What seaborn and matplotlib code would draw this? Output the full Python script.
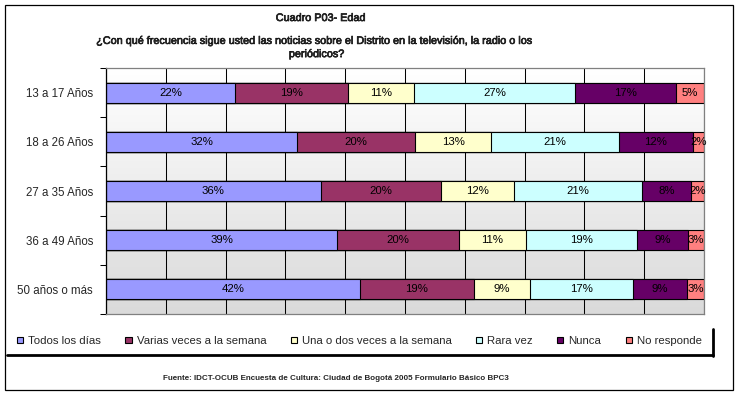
import numpy as np
import pandas as pd
import matplotlib
matplotlib.use("Agg")
import matplotlib.pyplot as plt
from matplotlib.colors import LinearSegmentedColormap
from matplotlib.lines import Line2D
from matplotlib.patches import Rectangle
import matplotlib.patheffects as pe
import seaborn as sns

# ---- data ----
categories = ["13 a 17 Años", "18 a 26 Años", "27 a 35 Años", "36 a 49 Años", "50 años o más"]
series = ["Todos los días", "Varias veces a la semana", "Una o dos veces a la semana",
          "Rara vez", "Nunca", "No responde"]
todos = [21.6, 32.0, 35.9, 38.7, 42.4]
varias = [18.9, 19.7, 20.2, 20.3, 19.1]
una_dos = [11.0, 12.7, 12.1, 11.2, 9.4]
rara = [26.9, 21.4, 21.4, 18.6, 17.2]
nunca = [17.0, 12.3, 8.2, 8.6, 9.1]
no_resp = [4.6, 1.9, 2.2, 2.6, 2.8]
colors = ["#9999FF", "#993366", "#FFFFCC", "#CCFFFF", "#660066", "#FF8080"]

title1 = "Cuadro P03- Edad"
title2 = "¿Con qué frecuencia sigue usted las noticias sobre el Distrito en la televisión, la radio o los\nperiódicos?"
footer = "Fuente: IDCT-OCUB Encuesta de Cultura: Ciudad de Bogotá 2005 Formulario Básico BPC3"

sns.set_style("white")
plt.rcParams["font.family"] = ["Liberation Sans", "DejaVu Sans"]

W, H = 740, 395
fig = plt.figure(figsize=(W / 100, H / 100), dpi=100)
fig.patch.set_facecolor("white")

def fx(px):
    return px / W

def fy(py):
    return 1 - py / H

ax = fig.add_axes([fx(106), fy(314), fx(704) - fx(106), (314 - 68) / H])

vals = np.array([todos, varias, una_dos, rara, nunca, no_resp]).T  # rows: categories
cum = np.cumsum(vals, axis=1)

# background gradient
cmap = LinearSegmentedColormap.from_list("bg", ["#FFFFFF", "#DADADA"])
ax.imshow(np.linspace(0, 1, 256).reshape(-1, 1), cmap=cmap, aspect="auto",
          extent=[0, 100, len(categories) - 0.5, -0.5], zorder=0)

# stacked bars: draw cumulative totals from last to first
for i in range(len(series) - 1, -1, -1):
    df = pd.DataFrame({"cat": categories, "val": cum[:, i]})
    sns.barplot(data=df, x="val", y="cat", orient="h", color=colors[i],
                width=0.41, edgecolor="black", linewidth=0.8, saturation=1,
                label=series[i], ax=ax, zorder=2)

# value labels
for r in range(len(categories)):
    for i in range(len(series)):
        v = vals[r, i]
        ax.text(cum[r, i] - v / 2, r, f"{v:.0f}%", ha="center", va="center",
                fontsize=8.2, color="black", zorder=3)

ax.set_xlim(0, 100)
ax.set_ylim(len(categories) - 0.5, -0.5)
ax.set_xlabel("")
ax.set_ylabel("")
ax.set_xticks(np.arange(0, 101, 10))
ax.tick_params(axis="x", length=0, labelbottom=False)
ax.set_axisbelow(True)
ax.grid(axis="x", color="black", linewidth=0.75, zorder=1)
ax.grid(axis="y", visible=False)

ax.set_yticks(range(len(categories)))
ax.set_yticklabels(categories, fontsize=8.3)
ax.set_yticks(np.arange(-0.5, len(categories), 1), minor=True)
ax.tick_params(axis="y", which="major", length=0, pad=9.4)
ax.tick_params(axis="y", which="minor", length=4, width=0.75, color="black", direction="out", left=True)

for s in ["top", "right", "bottom"]:
    ax.spines[s].set_color("#808080")
    ax.spines[s].set_linewidth(0.9)
ax.spines["left"].set_color("black")
ax.spines["left"].set_linewidth(0.9)

# legend
handles, labels = ax.get_legend_handles_labels()
order = [labels.index(s) for s in series]
handles = [handles[k] for k in order]
labels = [labels[k] for k in order]
if ax.get_legend() is not None:
    ax.get_legend().remove()
leg = fig.legend(handles, labels, loc="center left", bbox_to_anchor=(fx(17), fy(341)),
                 ncol=6, frameon=False, fontsize=8.2, handlelength=0.55, handleheight=0.55,
                 handletextpad=0.45, columnspacing=2.12, borderaxespad=0, borderpad=0)
for h in leg.legend_handles:
    h.set_edgecolor("black")
    h.set_linewidth(0.8)

# legend shadow box edges
fig.add_artist(Line2D([fx(7), fx(713)], [fy(355), fy(355)], color="black", lw=2.0))
fig.add_artist(Line2D([fx(713), fx(713)], [fy(329), fy(356)], color="black", lw=2.0))

# outer border
fig.add_artist(Rectangle((fx(5), fy(390)), fx(733) - fx(5), (390 - 5) / H,
                         fill=False, edgecolor="black", lw=0.9, transform=fig.transFigure))

# titles
stroke = [pe.withStroke(linewidth=0.45, foreground="black")]
fig.text(fx(321), fy(18), title1, ha="center", va="center", fontsize=7.8, path_effects=stroke)
fig.text(fx(317), fy(47.5), title2, ha="center", va="center", fontsize=7.8,
         linespacing=1.4, path_effects=stroke)
fig.text(fx(336), fy(379), footer, ha="center", va="center", fontsize=5.8, fontweight="bold")

fig.savefig("out.png", dpi=100)
